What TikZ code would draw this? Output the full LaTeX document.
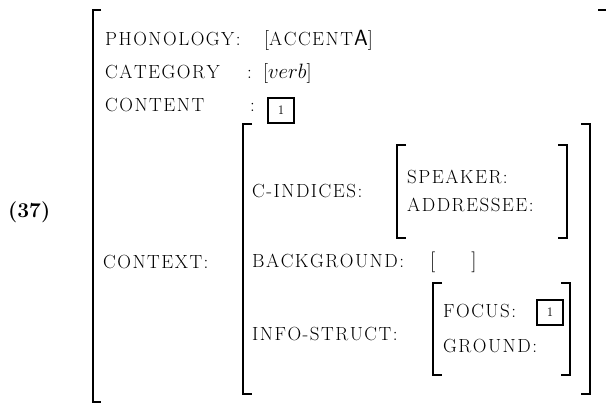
\documentclass[tikz,border=0pt]{standalone}
\makeatletter
% letter-spaced capitals for the feature names
\newcommand\spaced[1]{\@tfor\lsch:=#1\do{\lsch\kern1.5pt}\unkern}
\makeatother
\tikzset{
  lab/.style={anchor=base west, inner sep=0pt, font=\fontsize{19}{22}\selectfont},
  val/.style={anchor=base west, inner sep=0pt, font=\fontsize{20}{24}\selectfont},
  tagbox/.style={draw, line width=2.2pt, minimum width=26pt, minimum height=25pt,
    inner sep=0pt, font=\fontsize{13}{15}\selectfont},
  brk/.style={line width=1.9pt},
}
\begin{document}
\begin{tikzpicture}[x=1pt, y=-1pt]
  \useasboundingbox (0,0) rectangle (606,405);
  \clip (0,0) rectangle (606,405);

  % example number
  \node[val, font=\fontsize{21}{24}\selectfont\bfseries] (num) at (8,217) {(37)};

  % outermost matrix
  \draw[brk] (101,10) -- (93,10) -- (93,402) -- (101,402);
  \draw[brk] (598,10) -- (609,10) -- (609,420);

  \node[lab] (phon) at (105,45) {\spaced{PHONOLOGY:}};
  \node[val] (phonv) at (264,45) {[{\fontsize{19}{22}\selectfont\spaced{ACCENT}}\kern1pt{\fontsize{22}{24}\selectfont\textsf{A}}]};

  \node[lab] (cat) at (105,78) {\spaced{CATEGORY}};
  \node[lab] (catc) at (247,78) {:};
  \node[val] (catv) at (263,78) {[$verb$]};

  \node[lab] (cont) at (105,111) {\spaced{CONTENT}};
  \node[lab] (contc) at (250,111) {:};
  \node[tagbox] (tagA) at (281,110.5) {1};

  \node[lab] (ctx) at (103,268) {\spaced{CONTEXT:}};

  % CONTEXT value
  \draw[brk] (252,124) -- (243,124) -- (243,394) -- (252,394);
  \draw[brk] (581,124) -- (590,124) -- (590,394) -- (581,394);

  \node[lab] (cind) at (252,197) {\spaced{C-INDICES:}};
  \draw[brk] (406,145) -- (397,145) -- (397,238) -- (406,238);
  \draw[brk] (558,145) -- (567,145) -- (567,238) -- (558,238);
  \node[lab] (spk) at (407,183) {\spaced{SPEAKER:}};
  \node[lab] (adr) at (407,211) {\spaced{ADDRESSEE:}};

  \node[lab] (bg) at (252,267) {\spaced{BACKGROUND:}};
  \node[val] (bgv) at (430,267) {$\big[\hspace{36pt}\big]$};

  \node[lab] (info) at (252,340) {\spaced{INFO-STRUCT:}};
  \draw[brk] (442,283) -- (433,283) -- (433,375) -- (442,375);
  \draw[brk] (561,283) -- (570,283) -- (570,375) -- (561,375);
  \node[lab] (foc) at (443,317) {\spaced{FOCUS:}};
  \node[tagbox] (tagB) at (550,312.5) {1};
  \node[lab] (gnd) at (443,352) {\spaced{GROUND:}};
\end{tikzpicture}
\end{document}
